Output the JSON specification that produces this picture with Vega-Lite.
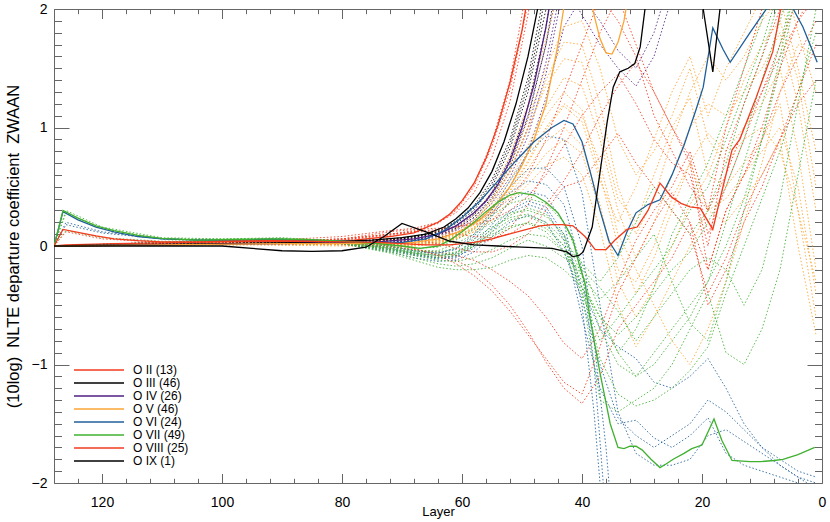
{
  "$schema": "https://vega.github.io/schema/vega-lite/v6.json",
  "width": 768,
  "height": 474,
  "autosize": {"type": "none"},
  "padding": {"left": 54, "top": 9, "right": 8, "bottom": 39},
  "background": "white",
  "config": {"view": {"stroke": null}, "font": "Liberation Sans"},
  "data": {
    "format": {"type": "csv", "parse": {"k": "number", "x": "number", "y": "number"}},
    "values": "c,k,x,y\na,0,128,0\na,0,126,0.01\na,0,118,0.02\na,0,105,0.03\na,0,95,0.04\na,0,85,0.04\na,0,78,0.05\na,0,72,0.08\na,0,68,0.11\na,0,64,0.2\na,0,62,0.27\na,0,60,0.38\na,0,58,0.53\na,0,56,0.74\na,0,54,1.02\na,0,52,1.38\na,0,50,1.82\na,0,48,2.4\nb,0,128,0\nb,0,118,0.01\nb,0,100,0.02\nb,0,85,0.03\nb,0,75,0.05\nb,0,70,0.07\nb,0,66,0.1\nb,0,63,0.16\nb,0,61,0.23\nb,0,59,0.32\nb,0,57,0.45\nb,0,55,0.63\nb,0,53,0.88\nb,0,51,1.2\nb,0,49,1.6\nb,0,47,2.1\nb,0,46,2.5\nc,0,128,0\nc,0,110,0.01\nc,0,90,0.02\nc,0,75,0.03\nc,0,68,0.06\nc,0,64,0.1\nc,0,61,0.17\nc,0,58,0.28\nc,0,56,0.38\nc,0,54,0.52\nc,0,52,0.72\nc,0,50,1.0\nc,0,48,1.36\nc,0,46,1.85\nc,0,45,2.15\nc,0,44,2.5\nd,0,128,0\nd,0,110,0.01\nd,0,90,0.02\nd,0,75,0.02\nd,0,68,0.03\nd,0,64,0.06\nd,0,60,0.13\nd,0,57,0.22\nd,0,54,0.37\nd,0,52,0.5\nd,0,50,0.68\nd,0,48,0.9\nd,0,46,1.2\nd,0,44,1.7\nd,0,43,2.02\nd,0,41,2.4\nd,0,39,2.2\nd,0,38,1.95\nd,0,37,1.75\nd,0,36,1.63\nd,0,35,1.62\nd,0,34,1.72\nd,0,33,1.9\nd,0,32,2.2\nd,0,31,2.6\ne,0,128,0\ne,0,126.5,0.29\ne,0,124,0.22\ne,0,121,0.16\ne,0,118,0.12\ne,0,114,0.08\ne,0,110,0.06\ne,0,104,0.05\ne,0,98,0.05\ne,0,92,0.055\ne,0,86,0.05\ne,0,80,0.04\ne,0,74,0.03\ne,0,70,0.03\ne,0,66,0.06\ne,0,63,0.13\ne,0,60,0.24\ne,0,57,0.38\ne,0,54,0.55\ne,0,51,0.72\ne,0,48,0.88\ne,0,45,1.0\ne,0,43,1.06\ne,0,41.5,1.03\ne,0,40,0.88\ne,0,38.5,0.6\ne,0,37,0.3\ne,0,35.5,0.04\ne,0,34,-0.08\ne,0,32.5,0.12\ne,0,31,0.28\ne,0,29,0.35\ne,0,27,0.39\ne,0,25,0.6\ne,0,23,0.85\ne,0,21,1.15\ne,0,19.8,1.34\ne,0,18.2,1.84\ne,0,16.5,1.66\ne,0,15.3,1.55\ne,0,12,1.8\ne,0,9,2.02\ne,0,6,2.1\ne,0,4.8,2.0\ne,0,3.2,1.85\ne,0,0.8,1.55\nf,0,128,0\nf,0,126.5,0.3\nf,0,124,0.235\nf,0,121,0.17\nf,0,118,0.13\nf,0,114,0.09\nf,0,110,0.065\nf,0,104,0.05\nf,0,98,0.055\nf,0,92,0.06\nf,0,86,0.055\nf,0,80,0.04\nf,0,74,0.02\nf,0,70,0\nf,0,67,-0.02\nf,0,64,0\nf,0,62,0.05\nf,0,60,0.12\nf,0,58,0.2\nf,0,56,0.29\nf,0,54,0.37\nf,0,52,0.43\nf,0,50.5,0.45\nf,0,48,0.43\nf,0,46,0.37\nf,0,44,0.28\nf,0,42.5,0.15\nf,0,41.5,0.05\nf,0,40.5,-0.15\nf,0,39.5,-0.31\nf,0,38.7,-0.6\nf,0,37,-1.07\nf,0,35.3,-1.5\nf,0,34,-1.7\nf,0,33,-1.71\nf,0,32,-1.69\nf,0,31,-1.69\nf,0,30,-1.72\nf,0,28.5,-1.8\nf,0,27,-1.87\nf,0,26,-1.84\nf,0,24.8,-1.8\nf,0,23,-1.75\nf,0,21.7,-1.71\nf,0,20,-1.68\nf,0,18,-1.46\nf,0,16.7,-1.64\nf,0,15,-1.81\nf,0,12,-1.82\nf,0,10.3,-1.82\nf,0,8,-1.81\nf,0,6.5,-1.8\nf,0,4,-1.76\nf,0,1.2,-1.7\ng,0,128,0\ng,0,126.5,0.14\ng,0,124,0.115\ng,0,121,0.085\ng,0,118,0.06\ng,0,114,0.045\ng,0,110,0.035\ng,0,104,0.035\ng,0,98,0.04\ng,0,92,0.045\ng,0,86,0.04\ng,0,80,0.035\ng,0,74,0.03\ng,0,70,0.02\ng,0,66,0.01\ng,0,62,0.01\ng,0,58,0.03\ng,0,55,0.06\ng,0,53.7,0.08\ng,0,50,0.13\ng,0,47,0.17\ng,0,45,0.18\ng,0,43.3,0.18\ng,0,41.5,0.17\ng,0,39.5,0.08\ng,0,37.8,-0.03\ng,0,36,-0.03\ng,0,34.5,0.05\ng,0,32.5,0.14\ng,0,30.8,0.16\ng,0,29,0.3\ng,0,27,0.53\ng,0,25,0.41\ng,0,23.5,0.36\ng,0,22,0.33\ng,0,20.3,0.32\ng,0,18.2,0.14\ng,0,16.5,0.5\ng,0,15,0.81\ng,0,13.7,0.9\ng,0,11,1.25\ng,0,8.2,1.64\ng,0,6.7,2.05\nh,0,128,0\nh,0,115,0\nh,0,100,0\nh,0,95,-0.02\nh,0,90,-0.04\nh,0,85,-0.045\nh,0,80,-0.04\nh,0,76,-0.01\nh,0,73,0.08\nh,0,70,0.19\nh,0,66,0.12\nh,0,62,0.04\nh,0,58,0.01\nh,0,54,0\nh,0,50,-0.01\nh,0,45,-0.02\nh,0,42.5,-0.05\nh,0,41.5,-0.09\nh,0,40.5,-0.08\nh,0,39.8,-0.05\nh,0,38.3,0.16\nh,0,37,0.62\nh,0,35.8,1.05\nh,0,34.8,1.34\nh,0,33.7,1.47\nh,0,32.3,1.5\nh,0,31.2,1.54\nh,0,30.3,1.68\nh,0,29.5,2.0\nh,0,28.5,2.5\nh,0,21,2.5\nh,0,19.8,2.0\nh,0,18.2,1.47\nh,0,17,2.0\nh,0,16,2.5\nh,0,0,2.5\na,1,128,0\na,1,110,0.02\na,1,95,0.03\na,1,80,0.05\na,1,72,0.09\na,1,68,0.12\na,1,64,0.19\na,1,61,0.3\na,1,58,0.5\na,1,55,0.84\na,1,52,1.32\na,1,49,2.05\na,1,47,2.6\na,2,128,0\na,2,110,0.02\na,2,95,0.04\na,2,80,0.08\na,2,72,0.13\na,2,68,0.15\na,2,64,0.2\na,2,61,0.28\na,2,58,0.45\na,2,55,0.75\na,2,52,1.22\na,2,49,1.95\na,2,47,2.6\na,3,128,0\na,3,110,0.02\na,3,95,0.03\na,3,80,0.02\na,3,72,0\na,3,68,-0.03\na,3,64,-0.07\na,3,61,-0.12\na,3,58,-0.2\na,3,55,-0.33\na,3,52,-0.5\na,3,49,-0.72\na,3,46,-0.98\na,3,43,-1.2\na,3,40,-1.33\na,3,37,-1.1\na,3,34,-0.7\na,3,31,-0.5\na,3,28,-0.3\na,3,25,-0.1\na,3,22,0.2\na,3,19,-0.2\na,3,16,0.3\na,3,13,0.6\na,3,10,0.9\na,3,7,1.3\na,3,4,1.6\na,3,1,1.9\na,4,128,0\na,4,110,0.02\na,4,95,0.02\na,4,80,0.01\na,4,72,-0.01\na,4,68,-0.03\na,4,64,-0.05\na,4,61,-0.08\na,4,58,-0.12\na,4,55,-0.2\na,4,52,-0.3\na,4,49,-0.42\na,4,46,-0.6\na,4,43,-0.82\na,4,40,-0.95\na,4,37,-0.7\na,4,34,-0.3\na,4,31,0.05\na,4,28,0.3\na,4,25,0.5\na,4,22,0.8\na,4,19,0.3\na,4,16,0.6\na,4,13,1.0\na,4,10,1.3\na,4,7,1.6\na,4,4,1.9\na,4,1,2.1\na,5,128,0\na,5,110,0.01\na,5,95,0.02\na,5,80,0.03\na,5,72,0.05\na,5,68,0.06\na,5,64,0.05\na,5,61,0.03\na,5,58,0.02\na,5,55,0.05\na,5,52,0.15\na,5,49,0.35\na,5,46,0.65\na,5,43,1.0\na,5,40,1.4\na,5,37,1.8\na,5,34,2.1\na,5,31,1.7\na,5,28,1.3\na,5,25,1.0\na,5,22,0.75\na,5,19,0.1\na,5,16,0.5\na,5,13,0.9\na,5,10,1.3\na,5,7,1.7\na,5,4,2.1\na,6,128,0\na,6,110,0.02\na,6,95,0.03\na,6,80,0.06\na,6,72,0.1\na,6,68,0.13\na,6,64,0.2\na,6,61,0.31\na,6,58,0.52\na,6,55,0.88\na,6,52,1.4\na,6,50,1.95\na,6,48,2.6\nb,1,128,0\nb,1,110,0.01\nb,1,95,0.02\nb,1,80,0.03\nb,1,72,0.05\nb,1,68,0.07\nb,1,64,0.12\nb,1,61,0.19\nb,1,58,0.3\nb,1,55,0.5\nb,1,52,0.82\nb,1,49,1.3\nb,1,46,2.0\nb,1,44,2.6\nb,2,128,0\nb,2,110,0.01\nb,2,95,0.02\nb,2,80,0.03\nb,2,72,0.05\nb,2,68,0.07\nb,2,64,0.11\nb,2,61,0.17\nb,2,58,0.27\nb,2,55,0.45\nb,2,52,0.74\nb,2,49,1.18\nb,2,46,1.85\nb,2,44,2.5\nb,3,128,0\nb,3,110,0.01\nb,3,95,0.03\nb,3,80,0.02\nb,3,72,0.03\nb,3,68,0.05\nb,3,64,0.09\nb,3,61,0.15\nb,3,58,0.24\nb,3,55,0.41\nb,3,52,0.67\nb,3,49,1.08\nb,3,46,1.7\nb,3,43,2.6\nb,4,128,0\nb,4,110,0.02\nb,4,95,0.03\nb,4,80,0.04\nb,4,72,0.06\nb,4,68,0.08\nb,4,64,0.13\nb,4,61,0.21\nb,4,58,0.34\nb,4,55,0.56\nb,4,52,0.9\nb,4,49,1.42\nb,4,47,1.95\nb,4,45,2.6\nb,5,128,0\nb,5,110,0.01\nb,5,95,0.02\nb,5,80,0.03\nb,5,72,0.05\nb,5,68,0.08\nb,5,64,0.12\nb,5,61,0.2\nb,5,58,0.32\nb,5,55,0.53\nb,5,52,0.86\nb,5,49,1.36\nb,5,47,1.85\nb,5,45,2.5\nc,1,128,0\nc,1,110,0.01\nc,1,95,0.02\nc,1,80,0.02\nc,1,72,0.03\nc,1,68,0.05\nc,1,64,0.08\nc,1,61,0.13\nc,1,58,0.22\nc,1,55,0.36\nc,1,52,0.58\nc,1,49,0.93\nc,1,46,1.45\nc,1,43,2.2\nc,1,40,1.95\nc,1,37,1.7\nc,1,34,1.5\nc,1,31,1.35\nc,1,28,1.6\nc,1,25,2.1\nc,1,22,2.6\nc,2,128,0\nc,2,110,0.01\nc,2,95,0.02\nc,2,80,0.02\nc,2,72,0.03\nc,2,68,0.04\nc,2,64,0.07\nc,2,61,0.11\nc,2,58,0.19\nc,2,55,0.31\nc,2,52,0.5\nc,2,49,0.8\nc,2,46,1.25\nc,2,43,1.85\nc,2,40,2.1\nc,2,37,1.9\nc,2,34,1.65\nc,2,31,1.5\nc,2,28,1.8\nc,2,25,2.3\nc,3,128,0\nc,3,110,0.01\nc,3,95,0.02\nc,3,80,0.02\nc,3,72,0.03\nc,3,68,0.05\nc,3,64,0.09\nc,3,61,0.14\nc,3,58,0.24\nc,3,55,0.39\nc,3,52,0.63\nc,3,49,1.0\nc,3,46,1.55\nc,3,43,2.3\nc,3,41,2.8\nc,4,128,0\nc,4,95,0.02\nc,4,80,0.03\nc,4,72,0.04\nc,4,68,0.06\nc,4,64,0.1\nc,4,61,0.16\nc,4,58,0.26\nc,4,55,0.43\nc,4,52,0.7\nc,4,49,1.1\nc,4,46,1.7\nc,4,44,2.2\nc,4,42,2.6\nc,4,39,2.3\nc,4,36,2.05\nc,4,33,2.2\nc,4,30,2.6\nd,1,128,0\nd,1,110,0.01\nd,1,95,0.02\nd,1,80,0.02\nd,1,72,0.01\nd,1,68,0.02\nd,1,64,0.05\nd,1,61,0.1\nd,1,58,0.2\nd,1,55,0.37\nd,1,52,0.62\nd,1,49,0.98\nd,1,46,1.4\nd,1,43,1.72\nd,1,40,1.7\nd,1,37,1.2\nd,1,34,0.5\nd,1,31,0.1\nd,1,28,0.4\nd,1,25,0.9\nd,1,22,1.3\nd,1,19,1.6\nd,1,16,1.4\nd,1,13,1.6\nd,1,10,1.9\nd,1,7,2.1\nd,1,4,1.5\nd,1,1,0.8\nd,2,128,0\nd,2,110,0.01\nd,2,95,0.02\nd,2,80,0.02\nd,2,72,0\nd,2,68,0.01\nd,2,64,0.04\nd,2,61,0.09\nd,2,58,0.18\nd,2,55,0.33\nd,2,52,0.55\nd,2,49,0.85\nd,2,46,1.17\nd,2,43,1.42\nd,2,40,1.35\nd,2,37,0.9\nd,2,34,0.3\nd,2,31,-0.1\nd,2,28,0.2\nd,2,25,0.6\nd,2,22,1.0\nd,2,19,1.2\nd,2,16,1.1\nd,2,13,1.3\nd,2,10,1.5\nd,2,7,1.8\nd,2,4,1.2\nd,2,1,0.3\nd,3,128,0\nd,3,110,0.01\nd,3,95,0.02\nd,3,80,0.01\nd,3,72,0\nd,3,68,0.01\nd,3,64,0.03\nd,3,61,0.08\nd,3,58,0.16\nd,3,55,0.3\nd,3,52,0.5\nd,3,49,0.78\nd,3,46,1.1\nd,3,43,1.3\nd,3,40,1.15\nd,3,37,0.6\nd,3,34,0\nd,3,31,-0.4\nd,3,28,-0.1\nd,3,25,0.3\nd,3,22,0.7\nd,3,19,0.95\nd,3,16,0.8\nd,3,13,1.0\nd,3,10,1.2\nd,3,7,1.5\nd,3,4,0.8\nd,3,1,-0.2\nd,4,128,0\nd,4,110,0.01\nd,4,95,0.02\nd,4,80,0.01\nd,4,72,0\nd,4,68,0\nd,4,64,0.02\nd,4,61,0.07\nd,4,58,0.14\nd,4,55,0.26\nd,4,52,0.43\nd,4,49,0.65\nd,4,46,0.88\nd,4,43,1.0\nd,4,40,0.85\nd,4,37,0.35\nd,4,34,-0.3\nd,4,31,-0.6\nd,4,28,-0.35\nd,4,25,0\nd,4,22,0.35\nd,4,19,0.6\nd,4,16,0.5\nd,4,13,0.7\nd,4,10,0.9\nd,4,7,1.2\nd,4,4,0.3\nd,4,1,-0.6\nd,5,128,0\nd,5,110,0.01\nd,5,95,0.01\nd,5,80,0\nd,5,72,-0.01\nd,5,68,0\nd,5,64,0.02\nd,5,61,0.06\nd,5,58,0.12\nd,5,55,0.22\nd,5,52,0.36\nd,5,49,0.52\nd,5,46,0.68\nd,5,43,0.75\nd,5,40,0.6\nd,5,37,0.15\nd,5,34,-0.5\nd,5,31,-0.85\nd,5,28,-0.6\nd,5,25,-0.3\nd,5,22,0\nd,5,19,0.3\nd,5,16,0.2\nd,5,13,0.4\nd,5,10,0.6\nd,5,7,0.9\nd,5,4,0\nd,5,1,-0.75\nd,6,128,0\nd,6,110,0.01\nd,6,95,0.02\nd,6,80,0.02\nd,6,72,0.02\nd,6,68,0.03\nd,6,64,0.07\nd,6,61,0.14\nd,6,58,0.26\nd,6,55,0.46\nd,6,52,0.76\nd,6,49,1.2\nd,6,46,1.75\nd,6,43,2.3\nd,6,40,2.6\nd,6,37,2.3\nd,6,34,2.1\nd,6,31,2.4\nd,6,28,2.7\nd,7,128,0\nd,7,95,0.02\nd,7,80,0.02\nd,7,72,0.01\nd,7,68,0.02\nd,7,64,0.04\nd,7,61,0.08\nd,7,58,0.15\nd,7,55,0.28\nd,7,52,0.46\nd,7,49,0.7\nd,7,46,0.98\nd,7,43,1.18\nd,7,40,1.05\nd,7,37,0.55\nd,7,34,0.2\nd,7,31,0.5\nd,7,28,0.9\nd,7,25,1.3\nd,7,22,1.6\nd,7,19,1.1\nd,7,16,1.5\nd,7,13,1.8\nd,7,10,2.1\nd,7,7,2.4\nd,7,4,1.8\nd,7,1,1.3\nd,8,128,0\nd,8,95,0.02\nd,8,80,0.02\nd,8,72,0.01\nd,8,68,0.02\nd,8,64,0.05\nd,8,61,0.11\nd,8,58,0.22\nd,8,55,0.4\nd,8,52,0.68\nd,8,49,1.07\nd,8,46,1.5\nd,8,43,1.85\nd,8,40,1.9\nd,8,37,1.5\nd,8,34,0.9\nd,8,31,0.6\nd,8,28,0.8\nd,8,25,1.1\nd,8,22,1.5\nd,8,19,0.9\nd,8,16,0.7\nd,8,13,0.9\nd,8,10,1.0\nd,8,7,0.8\nd,8,4,0.3\nd,8,1,-0.3\nd,9,128,0\nd,9,95,0.02\nd,9,80,0.02\nd,9,72,0.01\nd,9,68,0.02\nd,9,64,0.05\nd,9,61,0.1\nd,9,58,0.21\nd,9,55,0.38\nd,9,52,0.64\nd,9,49,1.0\nd,9,46,1.35\nd,9,43,1.58\nd,9,40,1.55\nd,9,37,1.0\nd,9,34,0.4\nd,9,31,0.2\nd,9,28,0.6\nd,9,25,1.0\nd,9,22,1.25\nd,9,19,0.6\nd,9,16,1.0\nd,9,13,1.4\nd,9,10,1.7\nd,9,7,1.9\nd,9,4,1.4\nd,9,1,0.5\nd,10,128,0\nd,10,95,0.01\nd,10,80,0.01\nd,10,72,0\nd,10,68,0.01\nd,10,64,0.03\nd,10,61,0.06\nd,10,58,0.12\nd,10,55,0.22\nd,10,52,0.38\nd,10,49,0.58\nd,10,46,0.78\nd,10,43,0.9\nd,10,40,0.78\nd,10,37,0.3\nd,10,34,-0.2\nd,10,31,-0.3\nd,10,28,0\nd,10,25,0.4\nd,10,22,0.7\nd,10,19,0.3\nd,10,16,0.4\nd,10,13,0.6\nd,10,10,0.8\nd,10,7,1.0\nd,10,4,0.5\nd,10,1,-0.4\nd,11,128,0\nd,11,95,0.02\nd,11,80,0.02\nd,11,72,0.01\nd,11,68,0.01\nd,11,64,0.03\nd,11,61,0.07\nd,11,58,0.15\nd,11,55,0.28\nd,11,52,0.47\nd,11,49,0.72\nd,11,46,1.0\nd,11,43,1.2\nd,11,40,1.1\nd,11,37,0.7\nd,11,34,0.1\nd,11,31,-0.2\nd,11,28,-0.5\nd,11,25,-0.8\nd,11,22,-1.0\nd,11,19,-0.7\nd,11,16,-0.3\nd,11,13,0.2\nd,11,10,0.7\nd,11,7,1.3\nd,11,4,1.7\nd,11,1,1.6\ne,1,128,0\ne,1,126,0.2\ne,1,120,0.12\ne,1,110,0.06\ne,1,100,0.05\ne,1,90,0.06\ne,1,80,0.03\ne,1,72,0\ne,1,68,-0.04\ne,1,64,-0.06\ne,1,61,-0.02\ne,1,58,0.1\ne,1,55,0.3\ne,1,52,0.55\ne,1,49,0.78\ne,1,46,0.93\ne,1,43,0.9\ne,1,40,0.45\ne,1,37,-0.5\ne,1,34,-1.4\ne,1,31,-1.75\ne,1,28,-1.85\ne,1,25,-1.85\ne,1,22,-1.8\ne,1,19,-1.6\ne,1,16,-1.55\ne,1,13,-1.65\ne,1,10,-1.75\ne,1,7,-1.85\ne,1,4,-1.95\ne,1,1,-2.05\ne,2,128,0\ne,2,126,0.18\ne,2,120,0.11\ne,2,110,0.06\ne,2,100,0.05\ne,2,90,0.06\ne,2,80,0.03\ne,2,72,-0.02\ne,2,68,-0.06\ne,2,64,-0.08\ne,2,61,-0.06\ne,2,58,0.05\ne,2,55,0.25\ne,2,52,0.45\ne,2,49,0.55\ne,2,46,0.52\ne,2,43,0.35\ne,2,40,-0.2\ne,2,38,-1.0\ne,2,36,-2.3\ne,3,128,0\ne,3,110,0.03\ne,3,100,0.04\ne,3,90,0.05\ne,3,80,0.02\ne,3,72,-0.03\ne,3,68,-0.07\ne,3,64,-0.1\ne,3,61,-0.08\ne,3,58,0.02\ne,3,55,0.18\ne,3,52,0.38\ne,3,49,0.46\ne,3,46,0.42\ne,3,43,0.2\ne,3,40,-0.5\ne,3,38,-1.4\ne,3,36.5,-2.3\ne,4,128,0\ne,4,110,0.03\ne,4,100,0.04\ne,4,90,0.05\ne,4,80,0.02\ne,4,72,-0.03\ne,4,68,-0.07\ne,4,64,-0.1\ne,4,61,-0.09\ne,4,58,-0.02\ne,4,55,0.12\ne,4,52,0.28\ne,4,49,0.35\ne,4,46,0.3\ne,4,43,0.05\ne,4,40,-0.6\ne,4,37,-1.2\ne,4,34,-1.5\ne,4,31,-1.47\ne,4,28,-1.62\ne,4,25,-1.7\ne,4,22,-1.6\ne,4,19,-1.45\ne,4,16,-1.75\ne,4,13,-1.85\ne,4,10,-1.9\ne,4,7,-1.95\ne,4,4,-2.0\ne,4,1,-2.1\ne,5,128,0\ne,5,110,0.03\ne,5,100,0.04\ne,5,90,0.05\ne,5,80,0.02\ne,5,72,-0.04\ne,5,68,-0.08\ne,5,64,-0.11\ne,5,61,-0.1\ne,5,58,0\ne,5,55,0.15\ne,5,52,0.3\ne,5,49,0.38\ne,5,46,0.33\ne,5,43,0.1\ne,5,40,-0.35\ne,5,37,-0.7\ne,5,34,-0.85\ne,5,31,-0.95\ne,5,28,-1.15\ne,5,25,-1.2\ne,5,22,-1.1\ne,5,19,-0.95\ne,5,16,-1.2\ne,5,13,-1.5\ne,5,10,-1.7\ne,5,7,-1.85\ne,5,4,-1.95\ne,5,1,-2.0\ne,6,128,0\ne,6,110,0.03\ne,6,100,0.04\ne,6,90,0.05\ne,6,80,0.03\ne,6,72,-0.01\ne,6,68,-0.05\ne,6,64,-0.06\ne,6,61,-0.03\ne,6,58,0.08\ne,6,55,0.27\ne,6,52,0.5\ne,6,49,0.65\ne,6,46,0.66\ne,6,43,0.5\ne,6,40,0\ne,6,38,-0.8\ne,6,36,-1.7\ne,6,35,-2.3\ne,7,128,0\ne,7,110,0.03\ne,7,100,0.04\ne,7,90,0.05\ne,7,80,0.02\ne,7,72,-0.05\ne,7,68,-0.1\ne,7,64,-0.13\ne,7,61,-0.12\ne,7,58,-0.05\ne,7,55,0.08\ne,7,52,0.2\ne,7,49,0.26\ne,7,46,0.2\ne,7,43,-0.05\ne,7,40,-0.45\ne,7,37,-1.0\ne,7,34,-1.45\ne,7,31,-1.6\ne,7,28,-1.7\ne,7,25,-1.6\ne,7,22,-1.5\ne,7,19,-1.3\ne,7,16,-1.4\ne,7,13,-1.55\ne,7,10,-1.7\ne,7,7,-1.8\ne,7,4,-1.9\ne,7,1,-1.95\nf,1,128,0\nf,1,126,0.28\nf,1,120,0.15\nf,1,110,0.06\nf,1,100,0.06\nf,1,90,0.065\nf,1,80,0.04\nf,1,72,0\nf,1,68,-0.04\nf,1,64,-0.04\nf,1,61,0.02\nf,1,58,0.1\nf,1,55,0.2\nf,1,52,0.28\nf,1,49,0.3\nf,1,46,0.25\nf,1,43,0.1\nf,1,40,-0.25\nf,1,37,-0.7\nf,1,34,-1.0\nf,1,31,-1.1\nf,1,28,-1.0\nf,1,25,-0.8\nf,1,22,-0.6\nf,1,19,-0.3\nf,1,16,0.2\nf,1,13,0.7\nf,1,10,1.2\nf,1,7,1.7\nf,1,4,2.3\nf,2,128,0\nf,2,126,0.13\nf,2,120,0.07\nf,2,110,0.04\nf,2,100,0.05\nf,2,90,0.05\nf,2,80,0.03\nf,2,72,-0.02\nf,2,68,-0.06\nf,2,64,-0.08\nf,2,61,-0.07\nf,2,58,0\nf,2,55,0.08\nf,2,52,0.15\nf,2,49,0.2\nf,2,46,0.15\nf,2,43,0\nf,2,40,-0.3\nf,2,37,-0.6\nf,2,34,-0.75\nf,2,31,-0.6\nf,2,28,-0.4\nf,2,25,-0.2\nf,2,22,-0.05\nf,2,19,0.2\nf,2,16,0.5\nf,2,13,0.9\nf,2,10,1.4\nf,2,7,1.9\nf,2,4,2.4\nf,3,128,0\nf,3,110,0.03\nf,3,100,0.05\nf,3,90,0.06\nf,3,80,0.03\nf,3,72,-0.04\nf,3,68,-0.08\nf,3,64,-0.12\nf,3,61,-0.13\nf,3,58,-0.1\nf,3,55,-0.03\nf,3,52,0.05\nf,3,49,0.1\nf,3,46,0.08\nf,3,43,-0.05\nf,3,40,-0.25\nf,3,37,-0.45\nf,3,34,-0.3\nf,3,31,-0.1\nf,3,28,0.1\nf,3,25,-0.3\nf,3,22,-0.65\nf,3,19,-0.8\nf,3,16,-0.3\nf,3,13,0.3\nf,3,10,0.9\nf,3,7,1.6\nf,3,4,2.3\nf,4,128,0\nf,4,110,0.03\nf,4,100,0.05\nf,4,90,0.06\nf,4,80,0.03\nf,4,72,-0.03\nf,4,68,-0.07\nf,4,64,-0.1\nf,4,61,-0.08\nf,4,58,0\nf,4,55,0.12\nf,4,52,0.22\nf,4,49,0.25\nf,4,46,0.18\nf,4,43,0\nf,4,40,-0.35\nf,4,37,-0.95\nf,4,34,-1.25\nf,4,31,-1.35\nf,4,28,-1.3\nf,4,25,-1.2\nf,4,22,-1.05\nf,4,19,-0.85\nf,4,16,-0.4\nf,4,13,0\nf,4,10,0.4\nf,4,7,0.8\nf,4,4,1.3\nf,4,1,1.8\nf,5,128,0\nf,5,110,0.02\nf,5,100,0.04\nf,5,90,0.05\nf,5,80,0.03\nf,5,72,-0.01\nf,5,68,-0.04\nf,5,64,-0.05\nf,5,61,-0.02\nf,5,58,0.06\nf,5,55,0.16\nf,5,52,0.24\nf,5,49,0.27\nf,5,46,0.2\nf,5,43,0.05\nf,5,40,-0.15\nf,5,37,-0.3\nf,5,34,-0.1\nf,5,31,0.2\nf,5,28,0.5\nf,5,25,0.3\nf,5,22,0.1\nf,5,19,0.3\nf,5,16,0.7\nf,5,13,1.2\nf,5,10,1.6\nf,5,7,2.1\nf,5,5,2.5\nf,6,128,0\nf,6,110,0.02\nf,6,100,0.04\nf,6,90,0.05\nf,6,80,0.02\nf,6,72,-0.05\nf,6,68,-0.1\nf,6,64,-0.15\nf,6,61,-0.17\nf,6,58,-0.15\nf,6,55,-0.1\nf,6,52,-0.02\nf,6,49,0.05\nf,6,46,0\nf,6,43,-0.1\nf,6,40,-0.2\nf,6,37,-0.35\nf,6,34,-0.55\nf,6,31,-0.8\nf,6,28,-0.6\nf,6,25,-0.4\nf,6,22,-0.2\nf,6,19,-0.1\nf,6,16,-0.2\nf,6,13,-0.5\nf,6,10,-0.2\nf,6,7,0.4\nf,6,4,1.2\nf,6,1,2.0\nf,7,128,0\nf,7,110,0.02\nf,7,100,0.04\nf,7,90,0.05\nf,7,80,0.03\nf,7,72,-0.02\nf,7,68,-0.05\nf,7,64,-0.07\nf,7,61,-0.05\nf,7,58,0.03\nf,7,55,0.14\nf,7,52,0.26\nf,7,49,0.32\nf,7,46,0.27\nf,7,43,0.08\nf,7,40,-0.4\nf,7,37,-1.3\nf,7,34,-1.4\nf,7,31,-1.3\nf,7,28,-1.2\nf,7,25,-1.0\nf,7,22,-0.7\nf,7,19,-0.4\nf,7,16,-0.9\nf,7,13,-1.0\nf,7,10,-0.7\nf,7,7,-0.2\nf,7,4,0.6\nf,7,1,1.4\nf,8,128,0\nf,8,126,0.3\nf,8,120,0.16\nf,8,110,0.07\nf,8,100,0.06\nf,8,90,0.07\nf,8,80,0.04\nf,8,72,0.01\nf,8,68,-0.02\nf,8,64,-0.01\nf,8,61,0.05\nf,8,58,0.14\nf,8,55,0.26\nf,8,52,0.36\nf,8,49,0.4\nf,8,46,0.36\nf,8,43,0.2\nf,8,40,-0.15\nf,8,37,-0.55\nf,8,34,-0.9\nf,8,31,-0.7\nf,8,28,-0.35\nf,8,25,0.1\nf,8,22,0.4\nf,8,19,0.7\nf,8,16,1.1\nf,8,13,1.5\nf,8,10,1.9\nf,8,8,2.4\nf,9,128,0\nf,9,110,0.02\nf,9,100,0.04\nf,9,90,0.05\nf,9,80,0.02\nf,9,72,-0.03\nf,9,68,-0.06\nf,9,64,-0.09\nf,9,61,-0.06\nf,9,58,0.02\nf,9,55,0.1\nf,9,52,0.17\nf,9,49,0.19\nf,9,46,0.12\nf,9,43,-0.05\nf,9,40,-0.4\nf,9,37,-0.8\nf,9,34,-0.6\nf,9,31,-0.4\nf,9,28,-0.2\nf,9,25,0\nf,9,22,0.3\nf,9,19,0.5\nf,9,16,0.9\nf,9,13,1.3\nf,9,10,1.7\nf,9,7,2.2\nf,10,128,0\nf,10,110,0.02\nf,10,100,0.04\nf,10,90,0.05\nf,10,80,0.02\nf,10,72,-0.06\nf,10,68,-0.12\nf,10,64,-0.18\nf,10,61,-0.2\nf,10,58,-0.2\nf,10,55,-0.18\nf,10,52,-0.12\nf,10,49,-0.08\nf,10,46,-0.1\nf,10,43,-0.2\nf,10,40,-0.35\nf,10,37,-0.6\nf,10,34,-0.9\nf,10,31,-1.1\nf,10,28,-0.9\nf,10,25,-0.7\nf,10,22,-0.5\nf,10,19,-0.3\nf,10,16,0\nf,10,13,0.4\nf,10,10,0.9\nf,10,7,1.5\nf,10,4,2.2\ng,1,128,0\ng,1,126,0.12\ng,1,120,0.06\ng,1,110,0.03\ng,1,100,0.04\ng,1,90,0.04\ng,1,80,0.06\ng,1,72,0.12\ng,1,68,0.14\ng,1,64,0.15\ng,1,61,0.16\ng,1,58,0.18\ng,1,55,0.22\ng,1,52,0.3\ng,1,49,0.42\ng,1,46,0.6\ng,1,43,0.85\ng,1,40,1.1\ng,1,37,1.3\ng,1,34,1.45\ng,1,31,1.2\ng,1,28,0.9\ng,1,25,0.7\ng,1,22,0.6\ng,1,19,0\ng,1,16,0.8\ng,1,13,1.2\ng,1,10,1.6\ng,1,7,2.0\ng,1,4,2.4\ng,2,128,0\ng,2,110,0.02\ng,2,100,0.03\ng,2,90,0.04\ng,2,80,0.05\ng,2,72,0.1\ng,2,68,0.12\ng,2,64,0.12\ng,2,61,0.1\ng,2,58,0.08\ng,2,55,0.07\ng,2,52,0.1\ng,2,49,0.2\ng,2,46,0.35\ng,2,43,0.55\ng,2,40,0.8\ng,2,37,1.1\ng,2,34,1.35\ng,2,31,1.55\ng,2,28,1.3\ng,2,25,1.0\ng,2,22,0.7\ng,2,19,-0.2\ng,2,16,0.3\ng,2,13,0.6\ng,2,10,1.0\ng,2,7,1.5\ng,2,4,1.9\ng,2,1,2.2\ng,3,128,0\ng,3,110,0.02\ng,3,100,0.02\ng,3,90,0.03\ng,3,80,0.03\ng,3,72,0.05\ng,3,68,0.05\ng,3,64,0.02\ng,3,61,-0.02\ng,3,58,-0.05\ng,3,55,-0.05\ng,3,52,0\ng,3,49,0.1\ng,3,46,0.3\ng,3,43,0.5\ng,3,40,0.55\ng,3,37,0.75\ng,3,34,0.95\ng,3,31,0.7\ng,3,28,0.5\ng,3,25,0.3\ng,3,22,0.1\ng,3,19,-0.4\ng,3,16,-0.1\ng,3,13,0.3\ng,3,10,0.6\ng,3,7,0.9\ng,3,4,1.3\ng,3,1,1.7\ng,4,128,0\ng,4,110,0.02\ng,4,100,0.02\ng,4,90,0.02\ng,4,80,0.02\ng,4,72,0.02\ng,4,68,-0.02\ng,4,64,-0.08\ng,4,61,-0.15\ng,4,58,-0.25\ng,4,55,-0.38\ng,4,52,-0.55\ng,4,49,-0.75\ng,4,46,-0.95\ng,4,43,-1.15\ng,4,40,-1.25\ng,4,37,-0.85\ng,4,34,-0.4\ng,4,31,-0.1\ng,4,28,0.2\ng,4,25,0.45\ng,4,22,0.2\ng,4,19,-0.5\ng,4,16,-0.2\ng,4,13,0.2\ng,4,10,0.5\ng,4,7,0.9\ng,4,4,1.2\ng,4,1,1.4\ng,5,128,0\ng,5,110,0.02\ng,5,100,0.03\ng,5,90,0.04\ng,5,80,0.06\ng,5,72,0.1\ng,5,68,0.12\ng,5,64,0.14\ng,5,61,0.16\ng,5,58,0.2\ng,5,55,0.28\ng,5,52,0.4\ng,5,49,0.6\ng,5,46,0.9\ng,5,43,1.3\ng,5,40,1.7\ng,5,37,2.1\ng,5,34,1.9\ng,5,31,1.6\ng,5,28,1.1\ng,5,25,0.8\ng,5,22,0.5\ng,5,19,0.3\ng,5,16,1.0\ng,5,13,1.5\ng,5,10,2.0\ng,5,7,2.4"
  },
  "encoding": {
    "color": {
      "field": "c", "type": "nominal",
      "scale": {"domain": ["a","b","c","d","e","f","g","h"], "range": ["#f23a1c","#000000","#4f1f82","#fba634","#1f5f99","#3fb030","#f23a1c","#000000"]},
      "legend": {
        "orient": "none", "legendX": 39, "legendY": 355, "title": null,
        "symbolType": "M-5,0H5", "symbolSize": 100, "symbolStrokeWidth": 1.3, "symbolDash": [], "symbolOpacity": 1,
        "labelOffset": 28, "labelFontSize": 12, "labelFont": "Liberation Sans", "labelColor": "black", "rowPadding": 1,
        "labelExpr": "datum.label == 'a' ? 'O II (13)' : datum.label == 'b' ? 'O III (46)' : datum.label == 'c' ? 'O IV (26)' : datum.label == 'd' ? 'O V (46)' : datum.label == 'e' ? 'O VI (24)' : datum.label == 'f' ? 'O VII (49)' : datum.label == 'g' ? 'O VIII (25)' : 'O IX (1)'"
      }
    },
    "detail": {"field": "k", "type": "nominal"}
  },
  "layer": [
    {
      "transform": [{"filter": "datum.k > 0"}],
      "mark": {"type": "line", "clip": true, "strokeWidth": 1, "strokeDash": [1.5, 2], "opacity": 0.85},
      "encoding": {
        "x": {
          "field": "x", "type": "quantitative",
          "scale": {"domain": [0, 128], "reverse": true, "nice": false, "zero": false},
          "axis": {
            "orient": "bottom",
            "values": [0,4,8,12,16,20,24,28,32,36,40,44,48,52,56,60,64,68,72,76,80,84,88,92,96,100,104,108,112,116,120,124,128],
            "labelExpr": "datum.value % 20 === 0 ? datum.label : ''",
            "labelOverlap": false, "labelFlush": false,
            "tickSize": {"condition": {"test": "datum.value % 20 === 0", "value": -9.5}, "value": -4.7},
            "tickColor": "#666", "domainColor": "#666", "grid": false,
            "labelColor": "black", "labelFontSize": 14, "labelFont": "Liberation Sans", "labelPadding": 22,
            "title": "Layer", "titleFont": "Liberation Sans", "titleFontSize": 13, "titleFontWeight": "normal", "titleColor": "black", "titlePadding": -9
          }
        },
        "y": {
          "field": "y", "type": "quantitative",
          "scale": {"domain": [-2, 2], "nice": false, "zero": false},
          "axis": {
            "orient": "left",
            "values": [-2,-1.9,-1.8,-1.7,-1.6,-1.5,-1.4,-1.3,-1.2,-1.1,-1,-0.9,-0.8,-0.7,-0.6,-0.5,-0.4,-0.3,-0.2,-0.1,0,0.1,0.2,0.3,0.4,0.5,0.6,0.7,0.8,0.9,1,1.1,1.2,1.3,1.4,1.5,1.6,1.7,1.8,1.9,2],
            "labelExpr": "abs(datum.value - round(datum.value)) < 0.000001 ? format(datum.value, 'd') : ''",
            "labelOverlap": false, "labelFlush": false,
            "tickSize": {"condition": {"test": "abs(datum.value - round(datum.value)) < 0.000001", "value": -15}, "value": -7.5},
            "tickColor": "#666", "domainColor": "#666", "grid": false,
            "labelColor": "black", "labelFontSize": 14, "labelFont": "Liberation Sans", "labelPadding": 22,
            "title": "(10log)\u00a0\u00a0NLTE departure coefficient\u00a0\u00a0ZWAAN", "titleFont": "Liberation Sans", "titleFontSize": 16.5, "titleFontWeight": "normal", "titleColor": "black", "titlePadding": 10
          }
        }
      }
    },
    {
      "transform": [{"filter": "datum.k == 0"}],
      "mark": {"type": "line", "clip": true, "strokeWidth": 1.3},
      "encoding": {
        "x": {
          "field": "x", "type": "quantitative",
          "scale": {"domain": [0, 128], "reverse": true, "nice": false, "zero": false},
          "axis": {
            "orient": "top",
            "values": [0,4,8,12,16,20,24,28,32,36,40,44,48,52,56,60,64,68,72,76,80,84,88,92,96,100,104,108,112,116,120,124,128],
            "labels": false, "title": null,
            "tickSize": {"condition": {"test": "datum.value % 20 === 0", "value": -9.5}, "value": -4.7},
            "tickColor": "#666", "domainColor": "#666", "grid": false
          }
        },
        "y": {
          "field": "y", "type": "quantitative",
          "scale": {"domain": [-2, 2], "nice": false, "zero": false},
          "axis": {
            "orient": "right",
            "values": [-2,-1.9,-1.8,-1.7,-1.6,-1.5,-1.4,-1.3,-1.2,-1.1,-1,-0.9,-0.8,-0.7,-0.6,-0.5,-0.4,-0.3,-0.2,-0.1,0,0.1,0.2,0.3,0.4,0.5,0.6,0.7,0.8,0.9,1,1.1,1.2,1.3,1.4,1.5,1.6,1.7,1.8,1.9,2],
            "labels": false, "title": null,
            "tickSize": {"condition": {"test": "abs(datum.value - round(datum.value)) < 0.000001", "value": -15}, "value": -7.5},
            "tickColor": "#666", "domainColor": "#666", "grid": false
          }
        }
      }
    }
  ],
  "resolve": {"axis": {"x": "independent", "y": "independent"}}
}
